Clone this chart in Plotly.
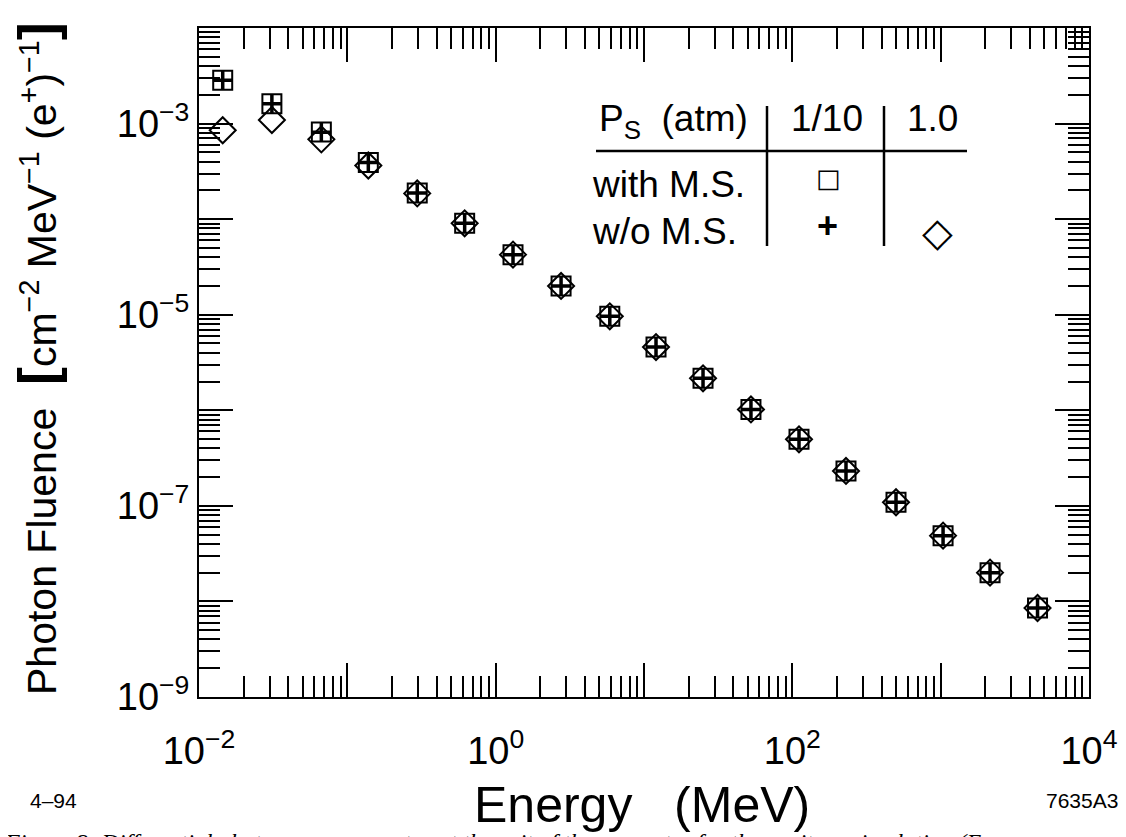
import plotly.graph_objects as go

# ---------------- data ----------------
energy_mev = [0.01445, 0.0310, 0.0668, 0.1385, 0.296, 0.618, 1.309, 2.76, 5.88,
              12.05, 25.0, 52.6, 110.9, 230.0, 500.0, 1038.0, 2152.0, 4498.0]

fluence_ms_01 = [2.84e-3, 1.61e-3, 8.17e-4, 3.92e-4, 1.88e-4, 9.04e-5, 4.25e-5, 2.00e-5,
                 9.62e-6, 4.59e-6, 2.16e-6, 1.02e-6, 4.97e-7, 2.32e-7, 1.09e-7, 4.88e-8,
                 2.00e-8, 8.53e-9]
fluence_noms_01 = [2.84e-3, 1.61e-3, 8.10e-4, 3.92e-4, 1.88e-4, 9.04e-5, 4.25e-5, 2.00e-5,
                   9.62e-6, 4.59e-6, 2.16e-6, 1.02e-6, 4.97e-7, 2.32e-7, 1.09e-7, 4.88e-8,
                   2.00e-8, 8.53e-9]
fluence_noms_10 = [8.51e-4, 1.09e-3, 6.84e-4, 3.64e-4, 1.86e-4, 9.04e-5, 4.25e-5, 2.00e-5,
                   9.62e-6, 4.59e-6, 2.16e-6, 1.02e-6, 4.97e-7, 2.32e-7, 1.09e-7, 4.88e-8,
                   2.00e-8, 8.53e-9]

x_tick_exps = [-2, -1, 0, 1, 2, 3, 4]
y_tick_exps = [-9, -8, -7, -6, -5, -4, -3, -2]
x_labelled = [-2, 0, 2, 4]
y_labelled = [-9, -7, -5, -3]

# ---------------- layout geometry (page pixel coordinates) ----------------
OFF = 8                      # page body margin
W, H = 1126 - OFF, 837 - OFF
L, R, T, B = 199, 1089, 28, 697
FONT = "Liberation Sans, Arial, Helvetica, sans-serif"


def px(xp):
    return (xp - L) / (R - L)


def py(yp):
    return (B - yp) / (B - T)


def lab(e):
    s = str(e).replace("-", "\u2212")
    return f"10<sup>{s}</sup>"


fig = go.Figure()

fig.add_trace(go.Scatter(
    x=energy_mev, y=fluence_noms_10, mode="markers", name="w/o M.S., 1.0 atm",
    marker=dict(symbol="diamond-open", size=20, color="black", line=dict(width=2, color="black"))))
fig.add_trace(go.Scatter(
    x=energy_mev, y=fluence_ms_01, mode="markers", name="with M.S., 1/10 atm",
    marker=dict(symbol="square-open", size=19, color="black", line=dict(width=2, color="black"))))
fig.add_trace(go.Scatter(
    x=energy_mev, y=fluence_noms_01, mode="markers", name="w/o M.S., 1/10 atm",
    marker=dict(symbol="cross-thin-open", size=14, color="black", line=dict(width=3.5, color="black"))))

axis_common = dict(
    type="log", showgrid=False, zeroline=False,
    showline=True, linewidth=2, linecolor="black", mirror="allticks",
    ticks="inside", ticklen=34, tickwidth=1.8, tickcolor="black",
    tickfont=dict(family=FONT, size=38, color="black"),
    minor=dict(ticks="inside", ticklen=21, tickwidth=1.5, tickcolor="black", dtick="D1", showgrid=False),
)

fig.update_xaxes(
    **axis_common, range=[-2, 4],
    tickmode="array", tickvals=[10.0 ** e for e in x_tick_exps],
    ticktext=[lab(e) if e in x_labelled else "" for e in x_tick_exps],
    ticklabelstandoff=19,
)
fig.update_yaxes(
    **axis_common, range=[-9, -2],
    tickmode="array", tickvals=[10.0 ** e for e in y_tick_exps],
    ticktext=[lab(e) if e in y_labelled else "" for e in y_tick_exps],
    ticklabelstandoff=0,
)

ann = []
# axis titles
ann.append(dict(text="Energy   (MeV)", x=px(642), y=py(805), xref="paper", yref="paper",
                showarrow=False, xanchor="center", yanchor="middle",
                font=dict(family=FONT, size=50, color="black")))
ann.append(dict(text="Photon Fluence  <span style='font-size:54px'><b>[</b></span>cm<sup>\u22122</sup> MeV<sup>\u22121</sup> (e<sup>+</sup>)<sup>\u22121</sup><span style='font-size:54px'><b>]</b></span>",
                x=px(37), y=py(359), xref="paper", yref="paper", textangle=-90,
                showarrow=False, xanchor="center", yanchor="middle",
                font=dict(family=FONT, size=41, color="black")))
# corner labels
ann.append(dict(text="4\u201394", x=px(28), y=py(800), xref="paper", yref="paper",
                showarrow=False, xanchor="left", yanchor="middle",
                font=dict(family=FONT, size=21, color="black")))
ann.append(dict(text="7635A3", x=px(1120), y=py(800), xref="paper", yref="paper",
                showarrow=False, xanchor="right", yanchor="middle",
                font=dict(family=FONT, size=21, color="black")))
# cut-off figure caption at the bottom edge
ann.append(dict(text="<i>Figure 8: Differential photon energy spectra at the exit of the converter for the positron simulation (E</i>",
                x=px(2), y=py(842), xref="paper", yref="paper",
                showarrow=False, xanchor="left", yanchor="middle",
                font=dict(family="Liberation Serif, Times New Roman, serif", size=24, color="black")))

# key table
kf = dict(family=FONT, size=37, color="black")
ann.append(dict(text="P<sub>S</sub>  (atm)", x=px(597), y=py(121), xref="paper", yref="paper",
                showarrow=False, xanchor="left", yanchor="middle", font=kf))
ann.append(dict(text="1/10", x=px(827), y=py(118), xref="paper", yref="paper",
                showarrow=False, xanchor="center", yanchor="middle", font=kf))
ann.append(dict(text="1.0", x=px(932), y=py(118), xref="paper", yref="paper",
                showarrow=False, xanchor="center", yanchor="middle", font=kf))
ann.append(dict(text="with M.S.", x=px(590), y=py(184), xref="paper", yref="paper",
                showarrow=False, xanchor="left", yanchor="middle", font=kf))
ann.append(dict(text="w/o M.S.", x=px(590), y=py(231), xref="paper", yref="paper",
                showarrow=False, xanchor="left", yanchor="middle", font=kf))
ann.append(dict(text="\u25a1", x=px(828), y=py(178), xref="paper", yref="paper",
                showarrow=False, xanchor="center", yanchor="middle",
                font=dict(family="DejaVu Sans", size=26, color="black")))
ann.append(dict(text="<b>+</b>", x=px(827), y=py(226), xref="paper", yref="paper",
                showarrow=False, xanchor="center", yanchor="middle",
                font=dict(family=FONT, size=36, color="black")))
ann.append(dict(text="\u25c7", x=px(937), y=py(232), xref="paper", yref="paper",
                showarrow=False, xanchor="center", yanchor="middle",
                font=dict(family="DejaVu Sans", size=40, color="black")))

shapes = [
    dict(type="line", xref="paper", yref="paper", x0=px(596), x1=px(967), y0=py(151), y1=py(151),
         line=dict(color="black", width=2.5)),
    dict(type="line", xref="paper", yref="paper", x0=px(767), x1=px(767), y0=py(106), y1=py(246),
         line=dict(color="black", width=2.5)),
    dict(type="line", xref="paper", yref="paper", x0=px(884), x1=px(884), y0=py(106), y1=py(246),
         line=dict(color="black", width=2.5)),
]

fig.update_layout(
    width=W, height=H,
    margin=dict(l=L - OFF, r=W - (R - OFF), t=T - OFF, b=H - (B - OFF), autoexpand=False),
    paper_bgcolor="white", plot_bgcolor="white",
    showlegend=False,
    annotations=ann, shapes=shapes,
    font=dict(family=FONT, color="black"),
)

fig.write_html("out.html")
